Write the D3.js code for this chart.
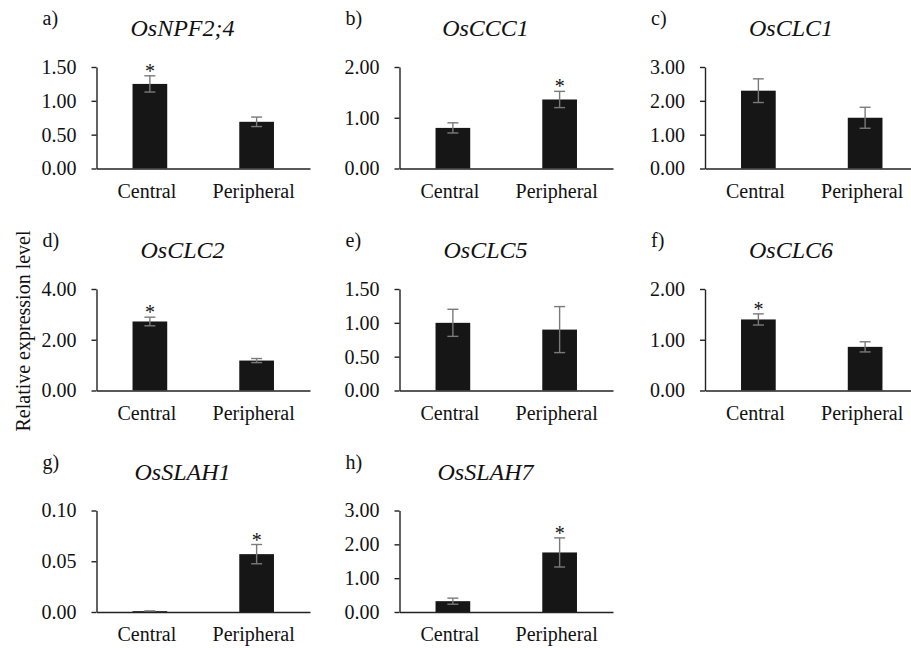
<!DOCTYPE html>
<html>
<head>
<meta charset="utf-8">
<script src="https://cdn.jsdelivr.net/npm/d3@7"></script>
<style>
  body { margin: 0; background: #fff; }
  svg text { font-family: "Liberation Serif", "Times New Roman", serif; fill: #111; }
</style>
</head>
<body>
<div id="chart"></div>
<script>
// ---- Data ----
const panelLabels = ["a)", "b)", "c)", "d)", "e)", "f)", "g)", "h)"];
const genes = ["OsNPF2;4", "OsCCC1", "OsCLC1", "OsCLC2", "OsCLC5", "OsCLC6", "OsSLAH1", "OsSLAH7"];
const categories = ["Central", "Peripheral"];

const centralMean = [1.25, 0.80, 2.30, 2.72, 1.00, 1.40, 0.0008, 0.32];
const centralErr  = [0.12, 0.10, 0.35, 0.17, 0.20, 0.11, 0.0002, 0.09];
const periphMean  = [0.69, 1.36, 1.50, 1.18, 0.90, 0.86, 0.057, 1.76];
const periphErr   = [0.07, 0.16, 0.31, 0.08, 0.34, 0.10, 0.0095, 0.43];
// which bar carries the asterisk (null = none)
const starOn = ["Central", "Peripheral", null, "Central", null, "Central", "Peripheral", "Peripheral"];

const yTicks = [
  [0, 0.5, 1.0, 1.5],
  [0, 1, 2],
  [0, 1, 2, 3],
  [0, 2, 4],
  [0, 0.5, 1.0, 1.5],
  [0, 1, 2],
  [0, 0.05, 0.10],
  [0, 1, 2, 3]
];

// ---- Layout ----
const width = 911, height = 648;
const colX = [96.5, 399.5, 705];
const rowTop = [67, 289, 510.5];
const plotW = 213.5, plotH = 101.5;
const serif = "Liberation Serif, Times New Roman, serif";

const svg = d3.select("#chart")
  .append("svg")
  .attr("width", width)
  .attr("height", height)
  .attr("font-family", serif);

const x = d3.scaleBand()
  .domain(categories)
  .range([0, plotW])
  .paddingInner(0.675)
  .paddingOuter(0.3375);

genes.forEach((gene, i) => {
  const col = i % 3, row = Math.floor(i / 3);
  const g = svg.append("g")
    .attr("transform", `translate(${colX[col]},${rowTop[row]})`);

  const ticks = yTicks[i];
  const y = d3.scaleLinear()
    .domain([0, ticks[ticks.length - 1]])
    .range([plotH, 0]);

  const rows = categories.map((c, k) => ({
    cat: c,
    mean: k === 0 ? centralMean[i] : periphMean[i],
    err: k === 0 ? centralErr[i] : periphErr[i]
  }));

  // bars
  g.selectAll(".bar")
    .data(rows)
    .enter()
    .append("rect")
    .attr("class", "bar")
    .attr("x", d => x(d.cat))
    .attr("width", x.bandwidth())
    .attr("y", d => y(d.mean))
    .attr("height", d => plotH - y(d.mean))
    .attr("fill", "#161616");

  // error bars
  const eb = g.selectAll(".err")
    .data(rows)
    .enter()
    .append("g")
    .attr("class", "err")
    .attr("stroke", "#7a7a7a")
    .attr("stroke-width", 1.4);
  const cx = d => x(d.cat) + x.bandwidth() / 2;
  eb.append("line")
    .attr("x1", cx).attr("x2", cx)
    .attr("y1", d => y(d.mean + d.err))
    .attr("y2", d => y(d.mean - d.err));
  eb.append("line")
    .attr("x1", d => cx(d) - 5.5).attr("x2", d => cx(d) + 5.5)
    .attr("y1", d => y(d.mean + d.err)).attr("y2", d => y(d.mean + d.err));
  eb.append("line")
    .attr("x1", d => cx(d) - 5.5).attr("x2", d => cx(d) + 5.5)
    .attr("y1", d => y(d.mean - d.err)).attr("y2", d => y(d.mean - d.err));

  // asterisk
  if (starOn[i]) {
    const d = rows.find(r => r.cat === starOn[i]);
    g.append("text")
      .attr("x", cx(d))
      .attr("y", y(d.mean + d.err) + 2)
      .attr("text-anchor", "middle")
      .attr("font-size", 20)
      .text("*");
  }

  // y axis
  const yAxis = g.append("g")
    .call(d3.axisLeft(y)
      .tickValues(ticks)
      .tickSize(5)
      .tickSizeOuter(0)
      .tickPadding(15)
      .tickFormat(d3.format(".2f")));
  yAxis.attr("font-family", serif);
  yAxis.select(".domain").attr("stroke", "#222").attr("stroke-width", 1.4);
  yAxis.selectAll(".tick line").attr("stroke", "#222").attr("stroke-width", 1.4);
  yAxis.selectAll(".tick text")
    .attr("font-size", 20)
    .attr("fill", "#111");

  // x axis
  const xAxis = g.append("g")
    .attr("transform", `translate(0,${plotH})`)
    .call(d3.axisBottom(x).tickSize(0).tickPadding(15));
  xAxis.attr("font-family", serif);
  xAxis.select(".domain").attr("stroke", "#222").attr("stroke-width", 1.4);
  xAxis.selectAll(".tick text")
    .attr("font-size", 20)
    .attr("fill", "#111")
    .attr("dx", -3);

  // panel letter and gene title
  g.append("text")
    .attr("x", -54)
    .attr("y", -42)
    .attr("font-size", 20)
    .text(panelLabels[i]);
  g.append("text")
    .attr("x", 86)
    .attr("y", -31)
    .attr("text-anchor", "middle")
    .attr("font-size", 24)
    .attr("font-style", "italic")
    .text(gene);
});

// shared y title
svg.append("text")
  .attr("transform", "translate(30,331) rotate(-90)")
  .attr("text-anchor", "middle")
  .attr("font-size", 20)
  .text("Relative expression level");
</script>
</body>
</html>
